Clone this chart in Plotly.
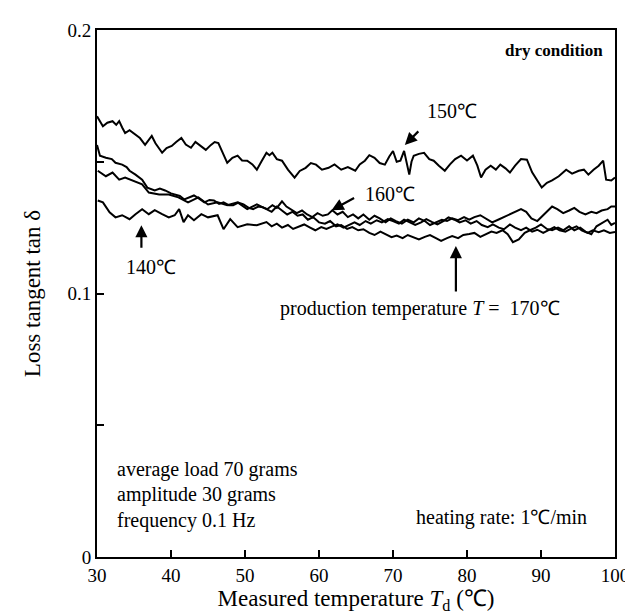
import plotly.graph_objects as go

# ---------------- data ----------------
x_150 = [30.0, 30.5, 30.8, 31.4, 32.1, 32.6, 33.0, 33.4, 33.8, 34.4, 35.2, 35.8, 36.5, 37.0, 37.4, 37.9,
         38.8, 39.4, 40.1, 40.7, 41.4, 42.0, 42.7, 43.3, 44.0, 44.7, 45.4, 45.9, 46.4, 47.0, 47.6, 48.3,
         49.0, 49.6, 50.3, 51.0, 51.6, 52.2, 52.9, 53.3, 53.7, 54.3, 55.0, 55.8, 56.7, 57.4, 58.2, 58.9,
         59.6, 60.4, 61.3, 62.1, 63.0, 63.9, 64.9, 65.5, 66.2, 66.8, 67.5, 68.2, 68.9, 69.5, 70.0, 70.5,
         71.0, 71.5, 71.9, 72.2, 72.5, 72.8, 73.5, 74.2, 74.9, 75.5, 76.2, 77.0, 77.7, 78.4, 79.2, 80.0,
         80.8, 81.4, 81.9, 82.5, 83.2, 83.9, 84.5, 85.2, 85.8, 86.5, 87.3, 88.1, 88.8, 89.4, 90.1, 90.8,
         91.5, 92.4, 93.4, 94.2, 95.1, 95.8, 96.4, 97.1, 97.8, 98.4, 98.8, 99.5, 100.0]
y_150 = [0.1673, 0.1650, 0.1635, 0.1648, 0.1654, 0.1640, 0.1654, 0.1630, 0.1609, 0.1620, 0.1602, 0.1590,
         0.1564, 0.1585, 0.1598, 0.1570, 0.1534, 0.1552, 0.1560, 0.1575, 0.1590, 0.1565, 0.1553, 0.1575,
         0.1560, 0.1545, 0.1564, 0.1575, 0.1571, 0.1530, 0.1496, 0.1515, 0.1523, 0.1505, 0.1504, 0.1490,
         0.1470, 0.1500, 0.1534, 0.1525, 0.1534, 0.1510, 0.1504, 0.1470, 0.1440, 0.1465, 0.1477, 0.1495,
         0.1489, 0.1470, 0.1477, 0.1490, 0.1470, 0.1480, 0.1466, 0.1490, 0.1504, 0.1525, 0.1515, 0.1495,
         0.1489, 0.1520, 0.1541, 0.1500, 0.1504, 0.1541, 0.1490, 0.1451, 0.1500, 0.1523, 0.1530, 0.1534,
         0.1510, 0.1504, 0.1485, 0.1466, 0.1490, 0.1510, 0.1523, 0.1505, 0.1523, 0.1485, 0.1440, 0.1470,
         0.1485, 0.1470, 0.1489, 0.1475, 0.1459, 0.1485, 0.1510, 0.1508, 0.1460, 0.1432, 0.1402, 0.1420,
         0.1429, 0.1445, 0.1470, 0.1455, 0.1466, 0.1470, 0.1451, 0.1470, 0.1485, 0.1504, 0.1432, 0.1429,
         0.1440]

x_160 = [30.0, 30.4, 31.2, 32.0, 32.5, 33.4, 34.0, 34.4, 35.2, 36.1, 36.8, 37.8, 38.5, 39.2, 40.0, 40.5,
         41.2, 41.8, 42.5, 43.1, 43.8, 44.5, 45.2, 45.8, 46.5, 47.1, 47.8, 48.4, 49.1, 49.8, 50.5, 51.1,
         51.8, 52.4, 53.0, 53.7, 54.3, 55.0, 55.6, 56.3, 57.0, 57.7, 58.4, 59.1, 59.8, 60.5, 61.2, 61.8,
         62.5, 63.2, 63.9, 64.6, 65.3, 66.0, 66.8, 67.5, 68.2, 69.0, 69.7, 70.4, 71.2, 72.0, 72.8, 73.5,
         74.3, 75.0, 75.8, 76.6, 77.3, 78.0, 78.8, 79.6, 80.3, 81.0, 81.8, 82.6, 83.4, 84.2, 85.0, 85.8,
         86.6, 87.3, 88.0, 88.7, 89.5, 90.2, 91.0, 91.5, 92.2, 93.0, 93.8, 94.5, 95.2, 96.0, 96.8, 97.5,
         98.2, 99.0, 99.5, 100.0]
y_160 = [0.1564, 0.1523, 0.1515, 0.1510, 0.1496, 0.1489, 0.1480, 0.1466, 0.1451, 0.1432, 0.1402, 0.1391,
         0.1398, 0.1391, 0.1380, 0.1376, 0.1370, 0.1357, 0.1365, 0.1372, 0.1360, 0.1346, 0.1355, 0.1353,
         0.1340, 0.1346, 0.1335, 0.1335, 0.1345, 0.1338, 0.1325, 0.1320, 0.1330, 0.1327, 0.1320, 0.1335,
         0.1325, 0.1350, 0.1330, 0.1318, 0.1305, 0.1315, 0.1300, 0.1290, 0.1305, 0.1295, 0.1300, 0.1316,
         0.1300, 0.1310, 0.1290, 0.1300, 0.1285, 0.1300, 0.1280, 0.1295, 0.1285, 0.1270, 0.1285, 0.1275,
         0.1265, 0.1280, 0.1270, 0.1285, 0.1275, 0.1260, 0.1270, 0.1280, 0.1275, 0.1285, 0.1278, 0.1290,
         0.1280, 0.1290, 0.1297, 0.1285, 0.1270, 0.1280, 0.1290, 0.1300, 0.1310, 0.1320, 0.1310, 0.1285,
         0.1275, 0.1295, 0.1315, 0.1330, 0.1320, 0.1305, 0.1315, 0.1325, 0.1310, 0.1300, 0.1310, 0.1305,
         0.1315, 0.1320, 0.1330, 0.1330]

x_170 = [30.1, 31.2, 32.1, 33.0, 33.8, 34.8, 36.1, 37.0, 38.4, 39.7, 41.0, 42.3, 43.7, 45.0, 46.3, 47.6,
         49.0, 50.3, 51.6, 52.9, 53.6, 54.3, 55.0, 55.7, 56.4, 57.1, 57.8, 58.5, 59.2, 60.0, 60.8, 61.5,
         62.3, 63.0, 63.8, 64.5, 65.3, 66.0, 66.8, 67.5, 68.3, 69.0, 69.8, 70.5, 71.3, 72.0, 72.8, 73.5,
         74.3, 75.0, 75.8, 76.5, 77.3, 78.0, 78.8, 79.5, 80.3, 81.0, 81.8, 82.5, 83.3, 84.0, 84.8, 85.5,
         86.2, 87.0, 87.8, 88.5, 89.3, 90.0, 90.8, 91.5, 92.3, 93.0, 93.8, 94.5, 95.3, 96.0, 96.8, 97.5,
         98.3, 99.0, 99.5, 100.0]
y_170 = [0.1466, 0.1445, 0.1459, 0.1432, 0.1440, 0.1429, 0.1414, 0.1383, 0.1376, 0.1376, 0.1365, 0.1346,
         0.1365, 0.1338, 0.1346, 0.1335, 0.1346, 0.1320, 0.1338, 0.1320, 0.1310, 0.1330, 0.1315, 0.1300,
         0.1310, 0.1295, 0.1300, 0.1280, 0.1290, 0.1270, 0.1265, 0.1275, 0.1255, 0.1260, 0.1245, 0.1252,
         0.1240, 0.1244, 0.1230, 0.1222, 0.1235, 0.1226, 0.1214, 0.1220, 0.1210, 0.1222, 0.1214, 0.1205,
         0.1215, 0.1222, 0.1210, 0.1200, 0.1210, 0.1218, 0.1210, 0.1222, 0.1226, 0.1230, 0.1215, 0.1225,
         0.1235, 0.1230, 0.1240, 0.1225, 0.1195, 0.1205, 0.1230, 0.1240, 0.1250, 0.1262, 0.1245, 0.1240,
         0.1250, 0.1240, 0.1255, 0.1240, 0.1250, 0.1235, 0.1225, 0.1255, 0.1270, 0.1280, 0.1260, 0.1268]

x_140 = [30.1, 30.8, 31.7, 32.5, 33.4, 34.4, 35.2, 36.1, 37.0, 37.8, 38.8, 39.7, 40.5, 41.1, 41.7, 42.3,
         43.1, 44.1, 45.0, 46.3, 47.1, 48.0, 49.0, 50.3, 51.6, 52.9, 53.6, 54.3, 55.0, 55.8, 56.5, 57.3,
         58.0, 58.8, 59.5, 60.3, 61.0, 61.8, 62.5, 63.3, 64.0, 64.8, 65.5, 66.3, 67.0, 67.8, 68.5, 69.3,
         70.0, 70.8, 71.5, 72.3, 73.0, 73.8, 74.5, 75.3, 76.0, 76.8, 77.5, 78.3, 79.0, 79.8, 80.5, 81.3,
         82.0, 82.8, 83.5, 84.3, 85.0, 85.8, 86.5, 87.3, 88.0, 88.8, 89.5, 90.3, 91.0, 91.8, 92.5, 93.3,
         94.0, 94.8, 95.5, 96.3, 97.0, 97.8, 98.5, 99.3, 100.0]
y_140 = [0.1353, 0.1346, 0.1308, 0.1289, 0.1297, 0.1282, 0.1301, 0.1320, 0.1301, 0.1316, 0.1301, 0.1289,
         0.1297, 0.1320, 0.1271, 0.1297, 0.1278, 0.1301, 0.1289, 0.1297, 0.1244, 0.1282, 0.1252, 0.1263,
         0.1259, 0.1271, 0.1255, 0.1265, 0.1250, 0.1260, 0.1245, 0.1255, 0.1262, 0.1250, 0.1240, 0.1252,
         0.1245, 0.1255, 0.1262, 0.1250, 0.1260, 0.1270, 0.1260, 0.1275, 0.1265, 0.1278, 0.1270, 0.1282,
         0.1275, 0.1265, 0.1280, 0.1270, 0.1260, 0.1270, 0.1282, 0.1271, 0.1262, 0.1275, 0.1289, 0.1280,
         0.1270, 0.1278, 0.1265, 0.1275, 0.1260, 0.1252, 0.1262, 0.1250, 0.1244, 0.1262, 0.1250, 0.1240,
         0.1250, 0.1235, 0.1242, 0.1230, 0.1240, 0.1252, 0.1240, 0.1235, 0.1245, 0.1255, 0.1240, 0.1230,
         0.1240, 0.1233, 0.1240, 0.1230, 0.1233]

x_ticks = [30, 40, 50, 60, 70, 80, 90, 100]
y_ticks = [0, 0.1, 0.2]
y_tick_labels = ["0", "0.1", "0.2"]

FONT = "Liberation Serif, Times New Roman, serif"

fig = go.Figure()
for xs, ys, name in [(x_150, y_150, "150℃"), (x_160, y_160, "160℃"),
                     (x_170, y_170, "170℃"), (x_140, y_140, "140℃")]:
    fig.add_trace(go.Scatter(x=xs, y=ys, mode="lines", name=name,
                             line=dict(color="black", width=2), showlegend=False))

annos = []
def arrow(x, y, ax, ay):
    annos.append(dict(x=x, y=y, ax=ax, ay=ay, xref="x", yref="y", text="", showarrow=True,
                      arrowhead=2, arrowsize=1.1, arrowwidth=2.2, arrowcolor="black"))
def label(x, y, text, xanchor="center", xref="x", yref="y", size=20):
    annos.append(dict(x=x, y=y, xref=xref, yref=yref, text=text, showarrow=False,
                      xanchor=xanchor, yanchor="middle",
                      font=dict(family=FONT, size=size, color="black")))

arrow(71.6, 0.1564, 15, -15)
label(78.0, 0.1692, "150℃")
arrow(61.7, 0.1316, 24, -13)
label(69.6, 0.1376, "160℃")
arrow(36.0, 0.1259, 0, 24)
label(37.3, 0.1100, "140℃")
arrow(78.5, 0.1180, 0, 47)
label(73.6, 0.0944, "production temperature <i>T</i> =  170℃")
label(0.981, 0.962, "<b>dry condition</b>", xanchor="right", xref="paper", yref="paper", size=17)
label(32.4, 0.0331, "average load 70 grams", xanchor="left")
label(32.4, 0.0237, "amplitude 30 grams", xanchor="left")
label(32.4, 0.0139, "frequency 0.1 Hz", xanchor="left")
label(96.5, 0.0150, "heating rate: 1℃/min", xanchor="right")

fig.update_layout(
    width=633, height=613,
    margin=dict(l=89, r=16, t=17, b=64),
    plot_bgcolor="white", paper_bgcolor="white",
    font=dict(family=FONT, size=19, color="black"),
    annotations=annos,
)
fig.update_xaxes(range=[30, 100], tickvals=x_ticks, ticks="inside", ticklen=7, tickwidth=2,
                 tickcolor="black", showline=True, linecolor="black", linewidth=2, mirror=True,
                 showgrid=False, zeroline=False,
                 tickfont=dict(family=FONT, size=19, color="black"),
                 title=dict(text="Measured temperature <i>T</i><sub>d</sub> (℃)",
                            font=dict(family=FONT, size=23, color="black"), standoff=0))
fig.update_yaxes(range=[0, 0.2], tickvals=y_ticks, ticktext=y_tick_labels, ticks="inside",
                 ticklen=7, tickwidth=2, tickcolor="black", showline=True, linecolor="black",
                 linewidth=2, mirror=True, showgrid=False, zeroline=False,
                 minor=dict(tickvals=[0.05, 0.15], ticks="inside", ticklen=7, tickwidth=2,
                            tickcolor="black"),
                 tickfont=dict(family=FONT, size=19, color="black"),
                 title=dict(text="Loss tangent tan δ", font=dict(family=FONT, size=23, color="black"),
                            standoff=20))

fig.write_html("out.html")
